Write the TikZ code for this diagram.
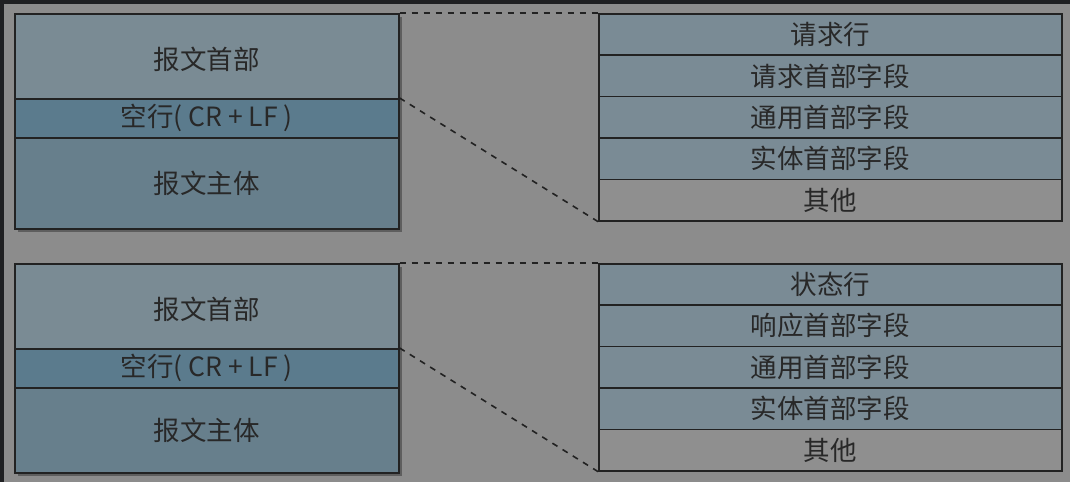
\documentclass[tikz,border=0pt]{standalone}
\usepackage{fontspec}
\setmainfont{Noto Sans CJK SC}
\definecolor{bgc}{HTML}{8C8C8C}
\definecolor{bandc}{HTML}{1F2022}
\definecolor{hdrc}{HTML}{7A8B94}
\definecolor{blankc}{HTML}{5B7B8D}
\definecolor{bodyc}{HTML}{677F8C}
\definecolor{rowc}{HTML}{7A8B95}
\definecolor{otherc}{HTML}{8F8F8F}
\definecolor{shadowc}{HTML}{5E5E5E}
\definecolor{linec}{HTML}{222222}
\definecolor{txtc}{HTML}{282828}
\newcommand{\lowertext}[1]{\raisebox{-3pt}[\height][\depth]{#1}}
\tikzset{
  cell/.style={draw=linec, line width=1.6pt, inner sep=0pt, anchor=north west,
    text=txtc, font=\fontsize{26.5}{30}\selectfont},
  leftcell/.style={cell, minimum width=384pt},
  rightcell/.style={cell, minimum width=463pt, minimum height=41.4pt, fill=rowc},
  shadowbox/.style={fill=shadowc, draw=none},
  connector/.style={draw=linec, line width=1.6pt, dash pattern=on 6pt off 6pt}
}
\begin{document}
\begin{tikzpicture}[x=1pt,y=-1pt]
\useasboundingbox (0,0) rectangle (1070,482);
\fill[bgc] (0,0) rectangle (1070,482);
\fill[bandc] (0,0) rectangle (1070,4);
\fill[bandc] (0,0) rectangle (3.5,482);

% ---------- top: request ----------
\coordinate (sh1a) at (18,17);
\coordinate (sh1b) at (402,232);
\fill[shadowbox] (sh1a) rectangle (sh1b);
\node[rightcell] (r1) at (598,13) {请求行};
\node[rightcell] (r2) at (598,54.4) {请求首部字段};
\node[rightcell] (r3) at (598,95.8) {通用首部字段};
\node[rightcell] (r4) at (598,137.2) {实体首部字段};
\node[rightcell, fill=otherc] (r5) at (598,178.6) {其他};
\node[leftcell, minimum height=85pt, fill=hdrc] (h1) at (14,13) {\lowertext{报文首部}};
\node[leftcell, minimum height=39pt, fill=blankc] (b1) at (14,98) {空行( CR + LF )};
\node[leftcell, minimum height=91pt, fill=bodyc] (m1) at (14,137) {报文主体};
\path[connector] (h1.north east) -- (r1.north west);
\path[connector] (b1.north east) -- (r5.south west);

% ---------- bottom: response ----------
\coordinate (sh2a) at (18,267);
\coordinate (sh2b) at (402,476);
\fill[shadowbox] (sh2a) rectangle (sh2b);
\node[rightcell] (s1) at (598,263) {状态行};
\node[rightcell] (s2) at (598,304.4) {响应首部字段};
\node[rightcell] (s3) at (598,345.8) {通用首部字段};
\node[rightcell] (s4) at (598,387.2) {实体首部字段};
\node[rightcell, fill=otherc] (s5) at (598,428.6) {其他};
\node[leftcell, minimum height=85pt, fill=hdrc] (h2) at (14,263) {\lowertext{报文首部}};
\node[leftcell, minimum height=39pt, fill=blankc] (b2) at (14,348) {空行( CR + LF )};
\node[leftcell, minimum height=85pt, fill=bodyc] (m2) at (14,387) {报文主体};
\path[connector] (h2.north east) -- (s1.north west);
\path[connector] (b2.north east) -- (s5.south west);
\end{tikzpicture}
\end{document}
